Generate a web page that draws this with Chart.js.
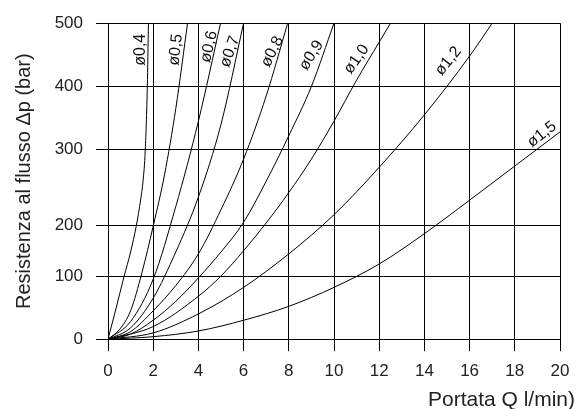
<!DOCTYPE html>
<html>
<head>
<meta charset="utf-8">
<script src="https://cdn.jsdelivr.net/npm/chart.js@4/dist/chart.umd.min.js"></script>
<style>
  html, body { margin: 0; padding: 0; background: #fff; }
</style>
</head>
<body>
<canvas id="chart" width="577" height="409"></canvas>
<script>
// curve names (nozzle diameter)
var diameters = ['ø0,4', 'ø0,5', 'ø0,6', 'ø0,7', 'ø0,8', 'ø0,9', 'ø1,0', 'ø1,2', 'ø1,5'];

// flow Q (l/min) and pressure drop (bar)
var q04 = [0, 0.35, 0.71, 1.0, 1.25, 1.45, 1.55, 1.65, 1.74, 1.79];
var p04 = [0, 48, 99, 138, 179, 222, 250, 300, 400, 500];
var q05 = [0, 0.5, 1.0, 1.5, 2.0, 2.5, 3.0, 3.52];
var p05 = [0, 15, 45, 105, 179, 260, 365, 500];
var q06 = [0, 1, 2, 3, 4, 4.98];
var p06 = [0, 28, 95, 210, 345, 500];
var q07 = [0, 1, 2, 3, 4, 5, 6];
var p07 = [0, 18, 65, 138, 225, 340, 500];
var q08 = [0, 1, 2, 3, 4, 5, 6, 7, 7.95];
var p08 = [0, 12, 45, 85, 135, 205, 285, 385, 500];
var q09 = [0, 1, 2, 3, 4, 5, 6, 7, 8, 9, 10];
var p09 = [0, 8, 30, 60, 97, 138, 185, 250, 322, 400, 500];
var q10 = [0, 2, 4, 5, 6, 7, 8, 9, 10, 11, 12, 12.5];
var p10 = [0, 20, 68, 100, 140, 184, 232, 285, 345, 410, 470, 500];
var q12 = [0, 2, 4, 6, 8, 10, 12, 14, 16, 17];
var p12 = [0, 10, 40, 82, 135, 197, 272, 355, 448, 500];
var q15 = [0, 2, 4, 6, 8, 10, 12, 14, 16, 18, 20];
var p15 = [0, 4, 13, 30, 52, 82, 119, 167, 220, 274, 328];

var flows = [q04, q05, q06, q07, q08, q09, q10, q12, q15];
var pressures = [p04, p05, p06, p07, p08, p09, p10, p12, p15];

// y grid as drawn in the original (its "200" line sits lower than 200)
var yTickValues = [0, 100, 180, 300, 400, 500];
var yTickLabels = ['0', '100', '200', '300', '400', '500'];

// where each diameter label sits, in data units, and its slant
var labelQ = [1.45, 3.0, 4.47, 5.4, 7.27, 9.0, 11.0, 15.06, 19.2];
var labelP = [458, 458, 463, 455, 455, 449, 443, 440, 324];
var labelAngle = [-90, -84, -77, -70, -64, -58, -55, -51, -38];

var FONT = "'Liberation Sans', Arial, sans-serif";

var datasets = diameters.map(function(name, k) {
  return {
    label: name,
    data: flows[k].map(function(q, i) { return {x: q, y: pressures[k][i]}; }),
    borderColor: '#000',
    borderWidth: 1,
    pointRadius: 0,
    cubicInterpolationMode: 'monotone',
    fill: false
  };
});

var curveLabels = {
  id: 'curveLabels',
  afterDatasetsDraw: function(chart) {
    var ctx = chart.ctx;
    var xs = chart.scales.x, ys = chart.scales.y;
    ctx.save();
    ctx.font = '16px ' + FONT;
    ctx.fillStyle = '#111';
    ctx.textAlign = 'center';
    ctx.textBaseline = 'middle';
    diameters.forEach(function(name, k) {
      ctx.save();
      ctx.translate(xs.getPixelForValue(labelQ[k]), ys.getPixelForValue(labelP[k]));
      ctx.rotate(labelAngle[k] * Math.PI / 180);
      ctx.fillText(name, 0, 0);
      ctx.restore();
    });
    ctx.restore();
  }
};

new Chart(document.getElementById('chart').getContext('2d'), {
  type: 'line',
  data: { datasets: datasets },
  plugins: [curveLabels],
  options: {
    responsive: false,
    animation: false,
    layout: { padding: { top: 17, left: 0, right: 2, bottom: 0 } },
    plugins: {
      legend: { display: false },
      tooltip: { enabled: false },
      title: {
        display: true,
        position: 'bottom',
        align: 'end',
        text: 'Portata Q l/min)',
        color: '#222',
        font: { family: FONT, size: 21, weight: 'normal', lineHeight: 0.8 },
        padding: 0
      }
    },
    scales: {
      x: {
        type: 'linear',
        min: 0,
        max: 20,
        ticks: { stepSize: 2, color: '#222', padding: 10, font: { family: FONT, size: 17 } },
        grid: { color: '#000', lineWidth: 1, drawTicks: true, tickLength: 12, tickColor: '#000' },
        border: { color: '#000' },
        afterFit: function(scale) {
          scale.height = 53;
          scale.paddingRight = 17;
        }
      },
      y: {
        type: 'linear',
        min: 0,
        max: 500,
        afterBuildTicks: function(scale) {
          scale.ticks = yTickValues.map(function(v) { return {value: v}; });
        },
        ticks: {
          color: '#222',
          padding: 13,
          font: { family: FONT, size: 17 },
          callback: function(value) {
            var i = yTickValues.indexOf(value);
            return i < 0 ? '' : yTickLabels[i];
          }
        },
        grid: { color: '#000', lineWidth: 1, drawTicks: true, tickLength: 12, tickColor: '#000' },
        border: { color: '#000' },
        title: {
          display: true,
          text: 'Resistenza al flusso Δp (bar)',
          color: '#222',
          font: { family: FONT, size: 20 },
          padding: { top: 12, bottom: 0 }
        },
        afterFit: function(scale) {
          scale.width = 108;
        }
      }
    }
  }
});
</script>
</body>
</html>
